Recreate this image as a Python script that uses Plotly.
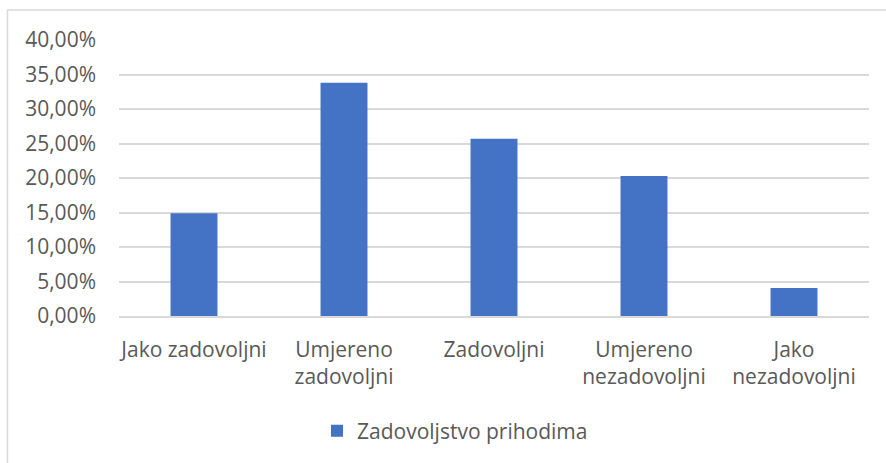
import plotly.graph_objects as go

categories = ["Jako zadovoljni", "Umjereno<br>zadovoljni", "Zadovoljni", "Umjereno<br>nezadovoljni", "Jako<br>nezadovoljni"]
values = [0.149, 0.338, 0.257, 0.203, 0.0405]
series_name = "Zadovoljstvo prihodima"
y_ticks = [0, 0.05, 0.10, 0.15, 0.20, 0.25, 0.30, 0.35, 0.40]

W, H = 886, 463
L, R, T, B = 119, 17, 40, 147
pw, ph = W - L - R, H - T - B

def px_x(x):
    return (x - L) / pw

def px_y(y):
    return (H - B - y) / ph

fig = go.Figure(go.Bar(
    x=categories, y=values, name=series_name,
    marker=dict(color="#4472C4", line=dict(width=0)),
    width=0.313, showlegend=True,
))

font_family = "Open Sans"
fs = 21
fig.update_layout(
    width=W, height=H,
    margin=dict(l=L, r=R, t=T, b=B, pad=0),
    paper_bgcolor="white", plot_bgcolor="white",
    separators=",.",
    font=dict(family=font_family, size=fs, color="#595959"),
    bargap=0.687,
    showlegend=True,
    legend=dict(orientation="h", x=px_x(455), xanchor="center", y=px_y(431), yanchor="middle",
                font=dict(size=fs, color="#595959"), itemwidth=30),
    shapes=[dict(type="rect", xref="paper", yref="paper",
                 x0=px_x(7.5), x1=px_x(900), y0=px_y(480), y1=px_y(10),
                 line=dict(color="#d9d9d9", width=1.5), layer="below")],
)
fig.update_yaxes(range=[0, 0.40], tickvals=y_ticks, tickformat=".2%",
                 showgrid=True, gridcolor="#d9d9d9", gridwidth=1.8,
                 zeroline=False, showline=False, ticks="", ticklabelstandoff=22,
                 tickfont=dict(size=fs, color="#595959"))
fig.update_xaxes(showgrid=False, showline=True, linecolor="#d9d9d9", linewidth=1.8,
                 ticks="", ticklabelstandoff=14, tickangle=0,
                 tickfont=dict(size=fs, color="#595959"))
fig.write_html("out.html", config={"displayModeBar": False},
               post_script="document.body.style.margin='0';document.body.style.overflow='hidden';")
